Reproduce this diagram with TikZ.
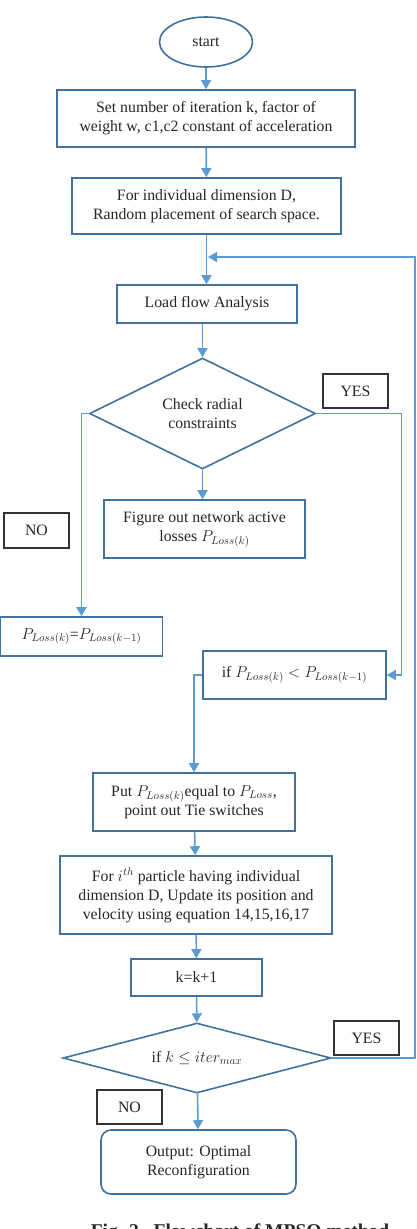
\RequirePackage{fix-cm}
\documentclass[tikz,border=0pt]{standalone}
\usepackage{fontspec}
\setmainfont{Liberation Serif}
\usetikzlibrary{shapes.geometric,arrows.meta}
\definecolor{boxblue}{RGB}{65,113,156}
\definecolor{arrblue}{RGB}{91,155,213}
\definecolor{txt}{RGB}{38,38,38}
\begin{document}
\begin{tikzpicture}[x=1pt,y=-1pt,
  box/.style={draw=boxblue,line width=1.6pt,fill=white,inner sep=0pt,align=center,text=txt,font=\fontsize{15.8}{19}\selectfont},
  flow/.style={draw=arrblue,line width=1.6pt,-{Triangle[width=10pt,length=9pt]}},
  lbl/.style={draw=black!80,line width=1.3pt,inner sep=0pt,fill=white,text=txt,font=\fontsize{15.8}{19}\selectfont}]
\useasboundingbox (0,0) rectangle (417,1229);
\clip (0,0) rectangle (417,1229);

\node[box,ellipse,minimum width=93pt,minimum height=50pt] (start) at (206,42) {start};
\node[box,minimum width=298pt,minimum height=57pt] (b1) at (206,118.5) {Set number of iteration k, factor of\\weight w, c1,c2 constant of acceleration};
\node[box,minimum width=269pt,minimum height=56pt] (b2) at (206.5,206) {For individual dimension D,\\Random placement of search space.};
\node[box,minimum width=180pt,minimum height=38pt] (lf) at (207,304) {Load flow Analysis};
\node[box,diamond,aspect=2.04,minimum width=226pt,minimum height=111pt] (d1) at (202.5,413.5) {Check radial\\constraints};
\node[lbl,minimum width=65pt,minimum height=34pt] (yes1) at (355.5,391) {YES};
\node[lbl,minimum width=65pt,minimum height=35pt] (no1) at (36.5,530.5) {NO};
\node[box,minimum width=201pt,minimum height=58pt] (fig) at (204.5,529) {Figure out network active\\losses $P_{Loss(k)}$};
\node[box,minimum width=162pt,minimum height=39pt] (pl) at (81.5,636.5) {$P_{Loss(k)}$=$P_{Loss(k-1)}$};
\node[box,minimum width=183pt,minimum height=48pt] (ifb) at (294.5,675) {if $P_{Loss(k)} < P_{Loss(k-1)}$};
\node[box,minimum width=202pt,minimum height=58pt] (put) at (194,802) {Put $P_{Loss(k)}$equal to $P_{Loss}$,\\point out Tie switches};
\node[box,minimum width=272pt,minimum height=78pt] (upd) at (196,895) {For $i^{th}$ particle having individual\\dimension D, Update its position and\\velocity using equation 14,15,16,17};
\node[box,minimum width=131pt,minimum height=37pt] (kk) at (196.5,977.5) {k=k+1};
\node[box,diamond,aspect=3.83,minimum width=268pt,minimum height=70pt] (d2) at (197,1058) {if $k \le iter_{max}$};
\node[lbl,minimum width=65pt,minimum height=34pt] (yes2) at (366.5,1038) {YES};
\node[lbl,minimum width=65pt,minimum height=34pt] (no2) at (129.5,1107) {NO};
\node[box,rounded corners=10pt,minimum width=195pt,minimum height=64pt] (out) at (198.5,1162) {Output: Optimal\\Reconfiguration};
\node[anchor=base,font=\fontsize{19.5}{22}\selectfont\bfseries,text=txt] (cap) at (240,1237) {Fig. 2.~~Flowchart of MPSO method};

\coordinate (loopc) at (415,257);
\coordinate (loopend) at (208,257);

\draw[flow] (start) -- (b1);
\draw[flow] (b1) -- (b2);
\draw[flow] (b2.south) -- (b2.south |- lf.north);
\draw[flow] (d1.north |- lf.south) -- (d1.north);
\draw[flow] (d1.south) -- (d1.south |- fig.north);
\draw[flow] (d1.west) -| (pl.north);
\draw[flow] (d1.east) -- ++(85,0) |- (ifb.east);
\draw[flow] (ifb.west) -| (put.north);
\draw[flow] (put) -- (upd);
\draw[flow] (upd) -- (kk);
\draw[flow] (kk) -- (d2);
\draw[flow] (d2) -- (out);
\draw[flow] (d2.east) -| (loopc) -- (loopend);
\end{tikzpicture}
\end{document}
